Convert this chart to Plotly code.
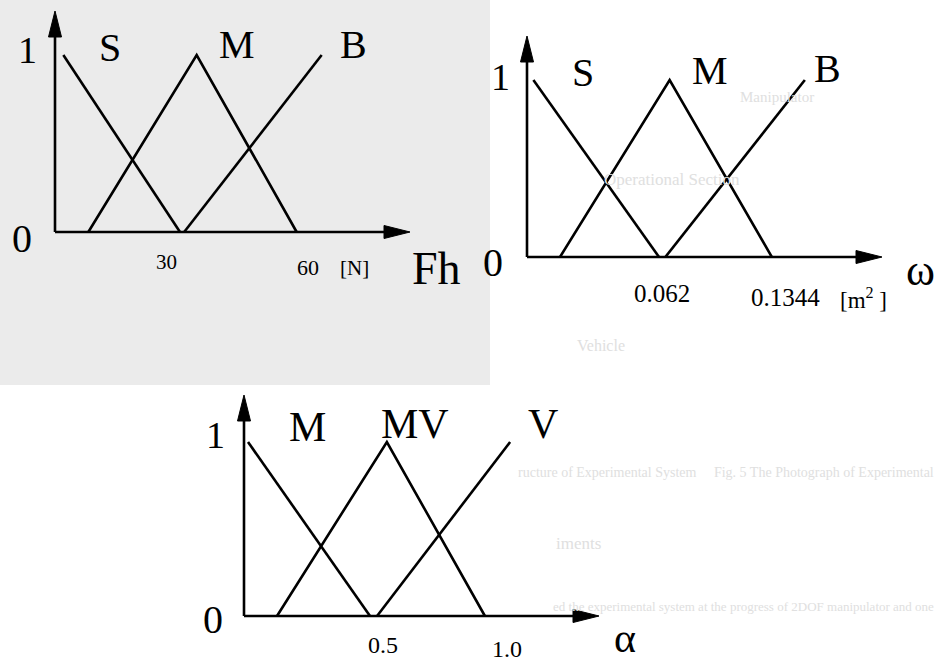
import plotly.graph_objects as go

# ---------------- data ----------------
# Panel 1: Fh [N]
fh_names = ["S", "M", "B"]
fh_S_x = [2, 30]
fh_S_y = [1, 0]
fh_M_x = [8, 34, 58]
fh_M_y = [0, 1, 0]
fh_B_x = [31, 64]
fh_B_y = [0, 1]
fh_ticks = ["30", "60"]

# Panel 2: omega [m^2]
w_names = ["S", "M", "B"]
w_S_x = [0.003, 0.062]
w_S_y = [1, 0]
w_M_x = [0.0155, 0.067, 0.115]
w_M_y = [0, 1, 0]
w_B_x = [0.065, 0.1305]
w_B_y = [0, 1]
w_ticks = ["0.062", "0.1344"]

# Panel 3: alpha
a_names = ["M", "MV", "V"]
a_M_x = [0.016, 0.5]
a_M_y = [1, 0]
a_MV_x = [0.131, 0.567, 0.956]
a_MV_y = [0, 1, 0]
a_V_x = [0.528, 1.056]
a_V_y = [0, 1]
a_ticks = ["0.5", "1.0"]

y_ticks = ["0", "1"]

# ---------------- layout helpers ----------------
W, H = 939, 665
FONT = "Liberation Serif"
LW = 2.6

# pixel origin and pixel-per-unit scale of each panel
panels = {
    1: dict(ox=55, oy=232, sx=125 / 30, sy=177),
    2: dict(ox=527, oy=257, sx=132 / 0.062, sy=177),
    3: dict(ox=244, oy=616, sx=126 / 0.5, sy=174),
}


def px2d(p, px, py):
    c = panels[p]
    return (px - c["ox"]) / c["sx"], (c["oy"] - py) / c["sy"]


fig = go.Figure()

series = {
    1: [(fh_S_x, fh_S_y), (fh_M_x, fh_M_y), (fh_B_x, fh_B_y)],
    2: [(w_S_x, w_S_y), (w_M_x, w_M_y), (w_B_x, w_B_y)],
    3: [(a_M_x, a_M_y), (a_MV_x, a_MV_y), (a_V_x, a_V_y)],
}
names = {1: fh_names, 2: w_names, 3: a_names}

for p in (1, 2, 3):
    sfx = "" if p == 1 else str(p)
    for (xs, ys), nm in zip(series[p], names[p]):
        fig.add_trace(go.Scatter(
            x=xs, y=ys, mode="lines", name=nm, showlegend=False,
            line=dict(color="black", width=LW),
            xaxis="x" + sfx, yaxis="y" + sfx, hoverinfo="skip",
        ))
    c = panels[p]
    fig.layout["xaxis" + sfx] = dict(
        domain=[0, 1], range=[(0 - c["ox"]) / c["sx"], (W - c["ox"]) / c["sx"]],
        visible=False, anchor="y" + sfx, fixedrange=True)
    fig.layout["yaxis" + sfx] = dict(
        domain=[0, 1], range=[(c["oy"] - H) / c["sy"], c["oy"] / c["sy"]],
        visible=False, anchor="x" + sfx, fixedrange=True)

shapes = []
# gray scanned-paper region behind the first chart
shapes.append(dict(type="rect", xref="paper", yref="paper", x0=0, x1=490 / W,
                   y0=1 - 385 / H, y1=1, fillcolor="#ebebeb", line=dict(width=0),
                   layer="below"))

# axes drawn with arrows (pixel sized, anchored at each panel's origin)
XLEN, YLEN, AL, AW = 355, 221, 26, 6.5
for p in (1, 2, 3):
    sfx = "" if p == 1 else str(p)
    common = dict(xref="x" + sfx, yref="y" + sfx, xsizemode="pixel", ysizemode="pixel",
                  xanchor=0, yanchor=0)
    shapes.append(dict(type="line", x0=0, y0=0, x1=XLEN - AL + 4, y1=0,
                       line=dict(color="black", width=LW), **common))
    shapes.append(dict(type="line", x0=0, y0=0, x1=0, y1=YLEN - AL + 4,
                       line=dict(color="black", width=LW), **common))
    shapes.append(dict(type="path",
                       path=f"M{XLEN - AL},{AW} L{XLEN},0 L{XLEN - AL},{-AW} Z",
                       fillcolor="black", line=dict(color="black", width=1), **common))
    shapes.append(dict(type="path",
                       path=f"M{-AW},{YLEN - AL} L0,{YLEN} L{AW},{YLEN - AL} Z",
                       fillcolor="black", line=dict(color="black", width=1), **common))

annotations = []


def txt(p, text, px, py, size, color="black", xanchor="center"):
    sfx = "" if p == 1 else str(p)
    x, y = px2d(p, px, py)
    annotations.append(dict(x=x, y=y, xref="x" + sfx, yref="y" + sfx, text=text,
                            showarrow=False, xanchor=xanchor, yanchor="middle",
                            font=dict(family=FONT, size=size, color=color)))


# faint show-through text of the scanned page (drawn first, underneath)
faint = "#e0e0e0"
txt(2, "Manipulator", 777, 97, 15, faint)
txt(2, "Operational Section", 672, 179, 17, faint)
txt(2, "Vehicle", 601, 345, 16, faint)
txt(3, "ructure of Experimental System     Fig. 5 The Photograph of Experimental",
    936, 472, 14, faint, xanchor="right")
txt(3, "iments", 578, 543, 17, faint)
txt(3, "ed the experimental system at the progress of 2DOF manipulator and one",
    936, 606, 13, faint, xanchor="right")

# panel 1
txt(1, y_ticks[1], 27, 50, 38)
txt(1, y_ticks[0], 22, 238, 40)
txt(1, fh_names[0], 110, 47, 40)
txt(1, fh_names[1], 237, 44, 40)
txt(1, fh_names[2], 353, 44, 40)
txt(1, fh_ticks[0], 166, 262, 21)
txt(1, fh_ticks[1], 308, 267, 22)
txt(1, "[N]", 354, 268, 21)
txt(1, "Fh", 436, 268, 46)

# panel 2
txt(2, y_ticks[1], 500, 77, 38)
txt(2, y_ticks[0], 493, 262, 40)
txt(2, w_names[0], 583, 72, 40)
txt(2, w_names[1], 710, 70, 40)
txt(2, w_names[2], 827, 68, 40)
txt(2, w_ticks[0], 662, 293, 25)
txt(2, w_ticks[1], 785, 297, 25)
txt(2, "[m<sup>2</sup> ]", 863, 298, 23)
txt(2, "ω", 920, 270, 44)

# panel 3
txt(3, y_ticks[1], 215, 435, 38)
txt(3, y_ticks[0], 213, 619, 40)
txt(3, a_names[0], 307, 427, 42)
txt(3, a_names[1], 415, 424, 42)
txt(3, a_names[2], 543, 424, 42)
txt(3, a_ticks[0], 383, 645, 24)
txt(3, a_ticks[1], 507, 649, 24)
txt(3, "α", 625, 638, 42)

fig.update_layout(
    width=W, height=H, margin=dict(l=0, r=0, t=0, b=0),
    paper_bgcolor="white", plot_bgcolor="rgba(0,0,0,0)",
    showlegend=False, shapes=shapes, annotations=annotations,
)

fig.write_html(
    "out.html",
    config={"displayModeBar": False, "staticPlot": True},
    post_script="document.body.style.margin='0';document.body.style.overflow='hidden';",
)
